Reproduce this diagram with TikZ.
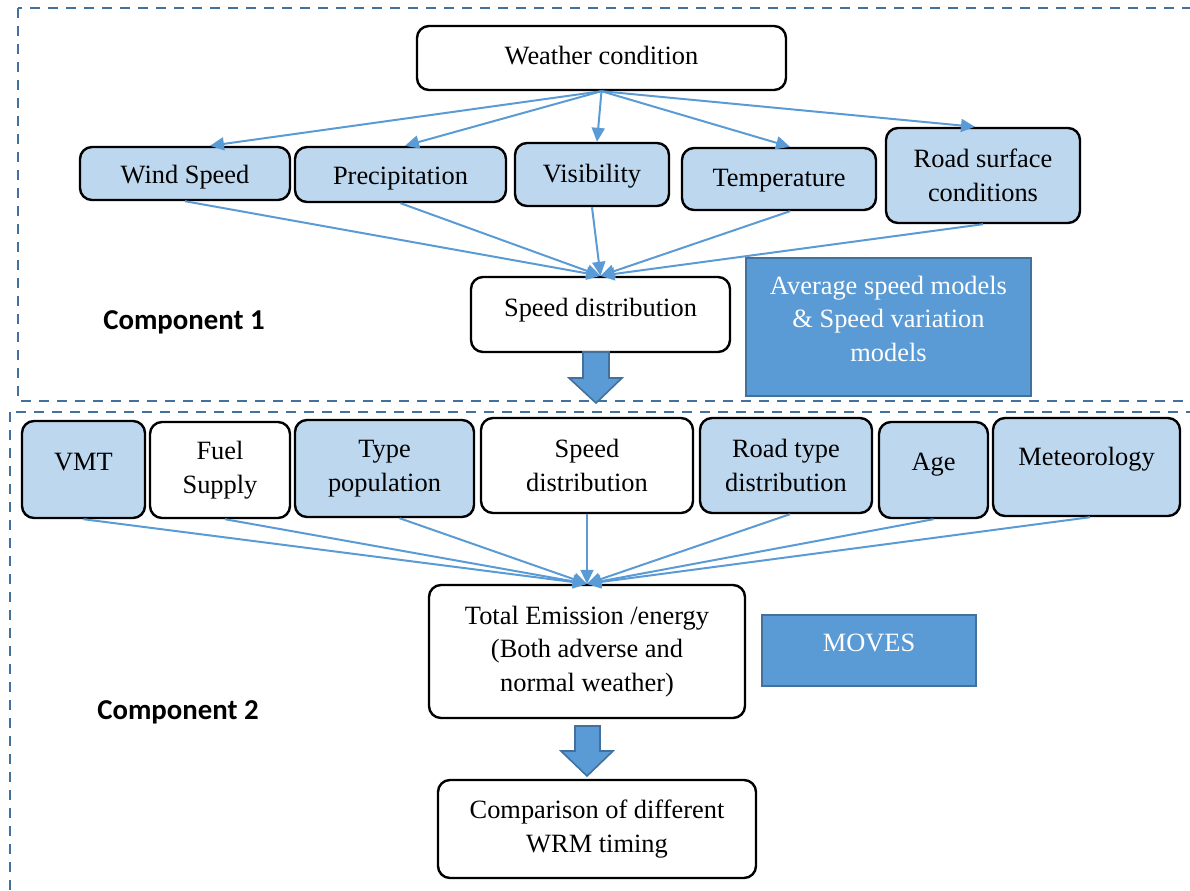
\documentclass[tikz,border=0pt]{standalone}
\usepackage{fontspec}
\setmainfont{Liberation Serif}
\newfontfamily\calib{Carlito}
\usetikzlibrary{arrows.meta,calc}
\definecolor{lb}{HTML}{BDD7EE}
\definecolor{db}{HTML}{5B9BD5}
\definecolor{bd}{HTML}{41719C}
\newcommand{\upt}[2]{\raisebox{#1}[\height][\depth]{#2}}
\begin{document}
\begin{tikzpicture}[x=0.5pt,y=-0.5pt,
 box/.style={draw=black,line width=1.2pt,rounded corners=6pt,align=center,inner sep=2pt,font=\fontsize{13.2}{16.8}\selectfont},
 wbox/.style={box,fill=white},
 bbox/.style={box,fill=lb},
 mbox/.style={draw=bd,line width=1.2pt,fill=db,text=white,align=center,inner sep=2pt,font=\fontsize{13.2}{16.8}\selectfont},
 conn/.style={draw=db,line width=1pt,-{Triangle[length=7pt,width=6.5pt]}},
 dashbox/.style={draw=bd,line width=1.4pt,dash pattern=on 5pt off 4pt},
 blockarrow/.style={draw=bd,fill=db,line width=0.8pt,line join=miter},
 comp/.style={font=\calib\bfseries\fontsize{14.4}{17}\selectfont}
]
\useasboundingbox (0,0) rectangle (1190,890);
\begin{scope}
\clip (0,0) rectangle (1190,890);
\draw[dashbox] (18,8) rectangle (1220,401);
\draw[dashbox] (10,412) rectangle (1220,920);
\end{scope}

% Component 1
\node[wbox,minimum width=184.5pt,minimum height=32pt] (weather) at (601.5,58) {\upt{1pt}{Weather condition}};
\node[bbox,minimum width=105pt,minimum height=26.5pt] (wind) at (185,173.5) {\upt{-2pt}{Wind Speed}};
\node[bbox,minimum width=105.5pt,minimum height=27.5pt] (precip) at (400.5,174.5) {\upt{-2pt}{Precipitation}};
\node[bbox,minimum width=77pt,minimum height=31.5pt] (vis) at (592,174.5) {\upt{-1pt}{Visibility}};
\node[bbox,minimum width=97pt,minimum height=31pt] (temp) at (779,179) {\upt{-1pt}{Temperature}};
\node[bbox,minimum width=97pt,minimum height=47.5pt] (road) at (983,175.5) {Road surface\\conditions};
\node[wbox,minimum width=129.5pt,minimum height=37.5pt] (speed1) at (600.5,314.5) {\upt{2pt}{Speed distribution}};
\node[mbox,minimum width=142.5pt,minimum height=69pt] (avg) at (888.5,327) {\upt{3pt}{\begin{tabular}{@{}c@{}}Average speed models\\ \& Speed variation\\ models\end{tabular}}};
\node[comp] (c1) at (184,322) {Component 1};

\draw[conn] (weather.south) -- ($(wind.north)+(25,0)$);
\draw[conn] (weather.south) -- ($(precip.north)+(4.5,0)$);
\draw[conn] (weather.south) -- ($(vis.north)+(5,0)$);
\draw[conn] (weather.south) -- ($(temp.north)+(11,0)$);
\draw[conn] (weather.south) -- ($(road.north)+(-8,0)$);

\draw[conn] (wind.south) -- (speed1.north);
\draw[conn] (precip.south) -- (speed1.north);
\draw[conn] (vis.south) -- (speed1.north);
\draw[conn] ($(temp.south)+(11,0)$) -- (speed1.north);
\draw[conn] (road.south) -- (speed1.north);

\draw[blockarrow] (583,352) -- (609,352) -- (609,378) -- (622,378) -- (596,403) -- (569,378) -- (583,378) -- cycle;

% Component 2
\node[bbox,minimum width=61.5pt,minimum height=48.5pt] (vmt) at (83.5,469.5) {\upt{3.7pt}{VMT}};
\node[wbox,minimum width=70pt,minimum height=48pt] (fuel) at (220,470) {Fuel\\Supply};
\node[bbox,minimum width=89.5pt,minimum height=48.5pt] (type) at (384.5,468.5) {Type\\population};
\node[wbox,minimum width=106pt,minimum height=47.5pt] (speed2) at (587,465.5) {Speed\\distribution};
\node[bbox,minimum width=86pt,minimum height=47.5pt] (roadtype) at (786,465.5) {Road type\\distribution};
\node[bbox,minimum width=54.5pt,minimum height=48pt] (age) at (933.5,470) {\upt{2.5pt}{Age}};
\node[bbox,minimum width=93.5pt,minimum height=49pt] (met) at (1086.5,467) {\upt{4pt}{Meteorology}};

\node[wbox,minimum width=158pt,minimum height=66.5pt] (total) at (587,651.5) {Total Emission /energy\\(Both adverse and\\normal weather)};
\node[mbox,minimum width=107pt,minimum height=35.5pt] (moves) at (869,650.5) {\upt{4pt}{MOVES}};
\node[comp] (c2) at (178,712) {Component 2};

\draw[conn] (vmt.south) -- (total.north);
\draw[conn] ($(fuel.south)+(5,0)$) -- (total.north);
\draw[conn] ($(type.south)+(15,0)$) -- (total.north);
\draw[conn] (speed2.south) -- (total.north);
\draw[conn] ($(roadtype.south)+(4,0)$) -- (total.north);
\draw[conn] (age.south) -- (total.north);
\draw[conn] ($(met.south)+(3.5,0)$) -- (total.north);

\draw[blockarrow] (575,726) -- (600,726) -- (600,751) -- (613,751) -- (587,776) -- (561,751) -- (575,751) -- cycle;

\node[wbox,minimum width=159pt,minimum height=49pt] (comp) at (597,829) {Comparison of different\\WRM timing};
\end{tikzpicture}
\end{document}
